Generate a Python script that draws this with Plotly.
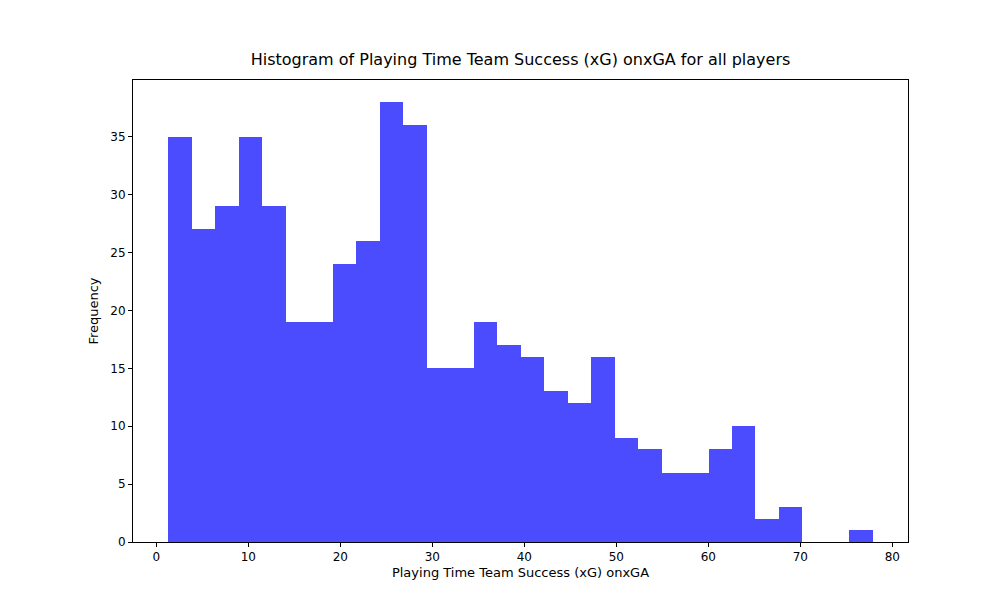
import plotly.graph_objects as go

# histogram bins (30 bins)
bin_start = 1.3
bin_width = 2.553
counts = [35, 27, 29, 35, 29, 19, 19, 24, 26, 38, 36, 15, 15, 19, 17,
          16, 13, 12, 16, 9, 8, 6, 6, 8, 10, 2, 3, 0, 0, 1]

fig = go.Figure(go.Bar(
    x0=bin_start + bin_width / 2, dx=bin_width, y=counts, width=bin_width,
    marker=dict(color="rgba(0,0,255,0.7)", line=dict(width=0)),
))

axis_style = dict(showline=True, linecolor="black", linewidth=1, mirror=True,
                  ticks="outside", ticklen=4, tickcolor="black", showgrid=False,
                  zeroline=False, tickfont=dict(size=12, color="black"))

fig.update_layout(
    width=1000, height=600,
    margin=dict(l=125, r=100, t=72, b=66),
    plot_bgcolor="white", paper_bgcolor="white",
    font=dict(family="DejaVu Sans", color="black"),
    title=dict(text="Histogram of Playing Time Team Success (xG) onxGA for all players",
               x=0.5125, xanchor="center", y=0.905, yanchor="bottom",
               font=dict(size=16)),
    bargap=0, showlegend=False,
    xaxis=dict(range=[-2.53, 81.7], tickvals=list(range(0, 90, 10)),
               title=dict(text="Playing Time Team Success (xG) onxGA", font=dict(size=13), standoff=4),
               **axis_style),
    yaxis=dict(range=[0, 39.9], tickvals=list(range(0, 40, 5)),
               title=dict(text="Frequency", font=dict(size=13), standoff=8),
               **axis_style),
)

fig.write_html("out.html")
